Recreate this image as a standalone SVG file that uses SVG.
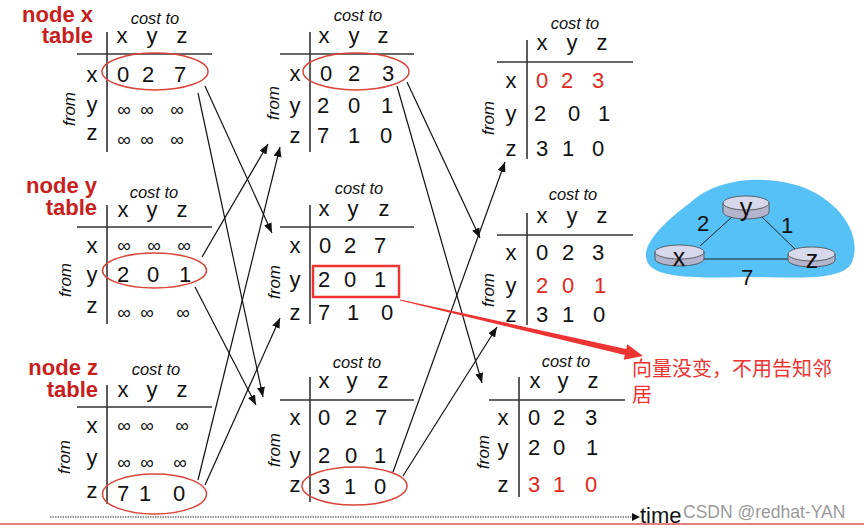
<svg xmlns="http://www.w3.org/2000/svg" width="864" height="528" viewBox="0 0 864 528">
<defs>
<style>
text{font-family:"Liberation Sans",Arial,sans-serif;fill:#111}
.ttl{font-size:22px;font-weight:bold;fill:#c8201c;text-anchor:end}
.ct{font-size:16.5px;font-style:italic;text-anchor:middle}
.h{font-size:22px;text-anchor:middle}
.v{font-size:22px;text-anchor:middle}
.r{fill:#e02a20}
.inf{font-size:19px;text-anchor:middle}
.fr{font-size:17px;font-style:italic;text-anchor:middle}
.ln{stroke:#333;stroke-width:1.6;fill:none}
.el{stroke:#d9453a;stroke-width:1.5;fill:none}
.c{stroke:#111;stroke-width:1.2;fill:none;marker-end:url(#ah)}
.rt{fill:#d8d8ec;stroke:#444;stroke-width:0.8}
.rs{fill:#b4b4cc;stroke:#444;stroke-width:0.8}
.nl{font-size:25px;text-anchor:middle}
.el2{stroke:#222;stroke-width:1}
.cn{font-family:"Noto Sans CJK SC",sans-serif;font-size:20px;fill:#ee3333}
</style>
<marker id="ah" markerUnits="userSpaceOnUse" markerWidth="10" markerHeight="8" refX="10" refY="4" orient="auto">
<path d="M0,0 L10,4 L0,8 z" fill="#111"/>
</marker>
</defs>
<rect width="864" height="528" fill="#fff"/>

<g id="nodeX-table">
<text class="ttl" x="93" y="22">node x</text>
<text class="ttl" x="93" y="43">table</text>
<text class="ct" x="155" y="24">cost to</text>
<text class="h" x="122" y="43">x</text><text class="h" x="152" y="43">y</text><text class="h" x="182" y="43">z</text>
<line class="ln" x1="77" y1="54" x2="212" y2="54"/><line class="ln" x1="107" y1="32" x2="107" y2="152"/>
<text class="h" x="92" y="82">x</text><text class="h" x="92" y="112">y</text><text class="h" x="92" y="140">z</text>
<text class="v" x="123" y="82">0</text><text class="v" x="148" y="82">2</text><text class="v" x="180" y="82">7</text>
<text class="inf" x="124" y="116">∞</text><text class="inf" x="147" y="116">∞</text><text class="inf" x="177" y="116">∞</text>
<text class="inf" x="124" y="146">∞</text><text class="inf" x="147" y="146">∞</text><text class="inf" x="177" y="146">∞</text>
<ellipse class="el" cx="155" cy="71.5" rx="53" ry="18.5"/>
<text class="fr" transform="translate(69,109) rotate(-90)" x="0" y="6">from</text>
</g>

<g id="nodeY-table">
<text class="ttl" x="97" y="193">node y</text>
<text class="ttl" x="97" y="215">table</text>
<text class="ct" x="154" y="198">cost to</text>
<text class="h" x="123" y="217">x</text><text class="h" x="152" y="217">y</text><text class="h" x="182" y="217">z</text>
<line class="ln" x1="77" y1="227" x2="212" y2="227"/><line class="ln" x1="107" y1="205" x2="107" y2="324"/>
<text class="h" x="92" y="253">x</text><text class="h" x="92" y="282">y</text><text class="h" x="92" y="313">z</text>
<text class="inf" x="124" y="252">∞</text><text class="inf" x="154" y="252">∞</text><text class="inf" x="184" y="252">∞</text>
<text class="v" x="123" y="282">2</text><text class="v" x="153" y="282">0</text><text class="v" x="185" y="282">1</text>
<text class="inf" x="124" y="319">∞</text><text class="inf" x="147" y="319">∞</text><text class="inf" x="183" y="319">∞</text>
<ellipse class="el" cx="154.5" cy="270.5" rx="52" ry="17.5"/>
<text class="fr" transform="translate(65,280) rotate(-90)" x="0" y="6">from</text>
</g>

<g id="nodeZ-table">
<text class="ttl" x="98" y="375">node z</text>
<text class="ttl" x="98" y="397">table</text>
<text class="ct" x="156" y="375">cost to</text>
<text class="h" x="123" y="397">x</text><text class="h" x="152" y="397">y</text><text class="h" x="182" y="397">z</text>
<line class="ln" x1="77" y1="407" x2="212" y2="407"/><line class="ln" x1="107" y1="385" x2="107" y2="504"/>
<text class="h" x="92" y="433">x</text><text class="h" x="92" y="465">y</text><text class="h" x="92" y="498">z</text>
<text class="inf" x="124" y="432">∞</text><text class="inf" x="147" y="432">∞</text><text class="inf" x="182" y="432">∞</text>
<text class="inf" x="124" y="469">∞</text><text class="inf" x="147" y="469">∞</text><text class="inf" x="180" y="469">∞</text>
<text class="v" x="123" y="501">7</text><text class="v" x="145" y="501">1</text><text class="v" x="179" y="501">0</text>
<ellipse class="el" cx="154.5" cy="494" rx="52" ry="20"/>
<text class="fr" transform="translate(64,457) rotate(-90)" x="0" y="6">from</text>
</g>

<g id="x-table-t1">
<text class="ct" x="358" y="21">cost to</text>
<text class="h" x="324" y="43">x</text><text class="h" x="354" y="43">y</text><text class="h" x="383" y="43">z</text>
<line class="ln" x1="280" y1="54" x2="414" y2="54"/><line class="ln" x1="310" y1="32" x2="310" y2="152"/>
<text class="h" x="295" y="81">x</text><text class="h" x="295" y="113">y</text><text class="h" x="295" y="143">z</text>
<text class="v" x="326" y="81">0</text><text class="v" x="354" y="81">2</text><text class="v" x="388" y="81">3</text>
<text class="v" x="323" y="113">2</text><text class="v" x="354" y="113">0</text><text class="v" x="387" y="113">1</text>
<text class="v" x="323" y="143">7</text><text class="v" x="354" y="143">1</text><text class="v" x="386" y="143">0</text>
<ellipse class="el" cx="356" cy="71.5" rx="53" ry="18.5"/>
<text class="fr" transform="translate(273,103) rotate(-90)" x="0" y="6">from</text>
</g>

<g id="y-table-t1">
<text class="ct" x="359" y="194">cost to</text>
<text class="h" x="324" y="216">x</text><text class="h" x="353" y="216">y</text><text class="h" x="384" y="216">z</text>
<line class="ln" x1="280" y1="227" x2="414" y2="227"/><line class="ln" x1="310" y1="205" x2="310" y2="324"/>
<text class="h" x="295" y="253">x</text><text class="h" x="295" y="287">y</text><text class="h" x="295" y="320">z</text>
<text class="v" x="325" y="253">0</text><text class="v" x="350" y="253">2</text><text class="v" x="380" y="253">7</text>
<text class="v" x="324" y="287">2</text><text class="v" x="350" y="287">0</text><text class="v" x="380" y="287">1</text>
<text class="v" x="324" y="320">7</text><text class="v" x="353" y="320">1</text><text class="v" x="387" y="320">0</text>
<rect x="313" y="266" width="86" height="31" fill="none" stroke="#ee3333" stroke-width="2.5"/>
<text class="fr" transform="translate(274,282) rotate(-90)" x="0" y="6">from</text>
</g>

<g id="z-table-t1">
<text class="ct" x="357" y="368">cost to</text>
<text class="h" x="324" y="388">x</text><text class="h" x="352" y="388">y</text><text class="h" x="383" y="388">z</text>
<line class="ln" x1="280" y1="400" x2="414" y2="400"/><line class="ln" x1="310" y1="377" x2="310" y2="502"/>
<text class="h" x="295" y="425">x</text><text class="h" x="295" y="463">y</text><text class="h" x="295" y="492">z</text>
<text class="v" x="324" y="425">0</text><text class="v" x="351" y="425">2</text><text class="v" x="381" y="425">7</text>
<text class="v" x="324" y="463">2</text><text class="v" x="351" y="463">0</text><text class="v" x="380" y="463">1</text>
<text class="v" x="324" y="494">3</text><text class="v" x="350" y="494">1</text><text class="v" x="380" y="494">0</text>
<ellipse class="el" cx="354.5" cy="486" rx="52.5" ry="19"/>
<text class="fr" transform="translate(274,450) rotate(-90)" x="0" y="6">from</text>
</g>

<g id="x-table-t2">
<text class="ct" x="575" y="29">cost to</text>
<text class="h" x="542" y="50">x</text><text class="h" x="572" y="50">y</text><text class="h" x="602" y="50">z</text>
<line class="ln" x1="497" y1="62" x2="633" y2="62"/><line class="ln" x1="527" y1="40" x2="527" y2="159"/>
<text class="h" x="511" y="88">x</text><text class="h" x="511" y="121">y</text><text class="h" x="511" y="156">z</text>
<text class="v r" x="542" y="88">0</text><text class="v r" x="567" y="88">2</text><text class="v r" x="598" y="88">3</text>
<text class="v" x="540" y="121">2</text><text class="v" x="574" y="121">0</text><text class="v" x="604" y="121">1</text>
<text class="v" x="542" y="156">3</text><text class="v" x="568" y="156">1</text><text class="v" x="598" y="156">0</text>
<text class="fr" transform="translate(488,118) rotate(-90)" x="0" y="6">from</text>
</g>

<g id="y-table-t2">
<text class="ct" x="573" y="200">cost to</text>
<text class="h" x="542" y="223">x</text><text class="h" x="572" y="223">y</text><text class="h" x="602" y="223">z</text>
<line class="ln" x1="497" y1="235" x2="633" y2="235"/><line class="ln" x1="527" y1="213" x2="527" y2="325"/>
<text class="h" x="511" y="260">x</text><text class="h" x="511" y="293">y</text><text class="h" x="511" y="322">z</text>
<text class="v" x="542" y="260">0</text><text class="v" x="568" y="260">2</text><text class="v" x="598" y="260">3</text>
<text class="v r" x="542" y="293">2</text><text class="v r" x="568" y="293">0</text><text class="v r" x="600" y="293">1</text>
<text class="v" x="542" y="322">3</text><text class="v" x="568" y="322">1</text><text class="v" x="599" y="322">0</text>
<text class="fr" transform="translate(488,290) rotate(-90)" x="0" y="6">from</text>
</g>

<g id="z-table-t2">
<text class="ct" x="566" y="367">cost to</text>
<text class="h" x="535" y="388">x</text><text class="h" x="563" y="388">y</text><text class="h" x="593" y="388">z</text>
<line class="ln" x1="489" y1="400" x2="625" y2="400"/><line class="ln" x1="519" y1="377" x2="519" y2="497"/>
<text class="h" x="503" y="425">x</text><text class="h" x="503" y="455">y</text><text class="h" x="503" y="492">z</text>
<text class="v" x="534" y="425">0</text><text class="v" x="559" y="425">2</text><text class="v" x="591" y="425">3</text>
<text class="v" x="534" y="455">2</text><text class="v" x="559" y="455">0</text><text class="v" x="592" y="455">1</text>
<text class="v r" x="534" y="492">3</text><text class="v r" x="559" y="492">1</text><text class="v r" x="591" y="492">0</text>
<text class="fr" transform="translate(483,452) rotate(-90)" x="0" y="6">from</text>
</g>

<g id="connectors">
<line class="c" x1="205" y1="86" x2="272" y2="233"/>
<line class="c" x1="198" y1="93" x2="263" y2="397"/>
<line class="c" x1="202" y1="257" x2="268" y2="144"/>
<line class="c" x1="195" y1="287" x2="256" y2="405" stroke-width="1.6"/>
<line class="c" x1="198" y1="480" x2="280" y2="147"/>
<line class="c" x1="205" y1="485" x2="280" y2="318"/>
<line class="c" x1="397" y1="86" x2="482" y2="383"/>
<line class="c" x1="407" y1="82" x2="480" y2="238"/>
<line class="c" x1="393" y1="472" x2="505" y2="162"/>
<line class="c" x1="403" y1="476" x2="497" y2="327"/>
<polygon points="400.1,299.5 626.2,349.1 627.3,344.2 643,356 623.7,359.8 624.8,354.9 399.9,300.5" fill="#ee3333"/>
</g>

<g id="network">
<path d="M690,203 C712,182 752,174 792,184 C834,194 864,232 852,262 C845,280 800,278 760,277 C720,277 665,281 650,266 C636,250 660,225 690,203 Z" fill="#55c1f7"/>
<line class="el2" x1="700" y1="246" x2="732" y2="217"/>
<line class="el2" x1="762" y1="217" x2="796" y2="250"/>
<line class="el2" x1="704" y1="259" x2="790" y2="259"/>
<text class="h" x="703" y="231">2</text>
<text class="h" x="787" y="233">1</text>
<text class="h" x="747" y="285">7</text>
</g>
<g id="router-y">
<path class="rs" d="M723,203 L723,212 A23,7 0 0 0 769,212 L769,203 Z"/>
<ellipse class="rt" cx="746" cy="203" rx="23" ry="7"/>
<text class="nl" x="746" y="216">y</text>
</g>
<g id="router-x">
<path class="rs" d="M655,252 L655,259 A24.5,7 0 0 0 704,259 L704,252 Z"/>
<ellipse class="rt" cx="679.5" cy="252" rx="24.5" ry="7"/>
<text class="nl" x="679" y="266">x</text>
</g>
<g id="router-z">
<path class="rs" d="M788,254 L788,260 A23.5,7 0 0 0 835,260 L835,254 Z"/>
<ellipse class="rt" cx="811.5" cy="254" rx="23.5" ry="7"/>
<text class="nl" x="812" y="268">z</text>
</g>

<g id="note">
<text class="cn" x="632" y="376">向量没变，不用告知邻</text>
<text class="cn" x="632" y="402">居</text>
</g>

<g id="timeline">
<line x1="50" y1="517" x2="632" y2="517" stroke="#333" stroke-width="1" stroke-dasharray="1.5 1"/>
<polygon points="632,513 640,517 632,521" fill="#111"/>
<text x="640" y="523" font-size="22">time</text>
<line x1="0" y1="524" x2="864" y2="524" stroke="#d55" stroke-width="1.5"/>
<text x="683" y="518" font-size="17.5" style="fill:#9a9a9a">CSDN @redhat-YAN</text>
</g>
</svg>
